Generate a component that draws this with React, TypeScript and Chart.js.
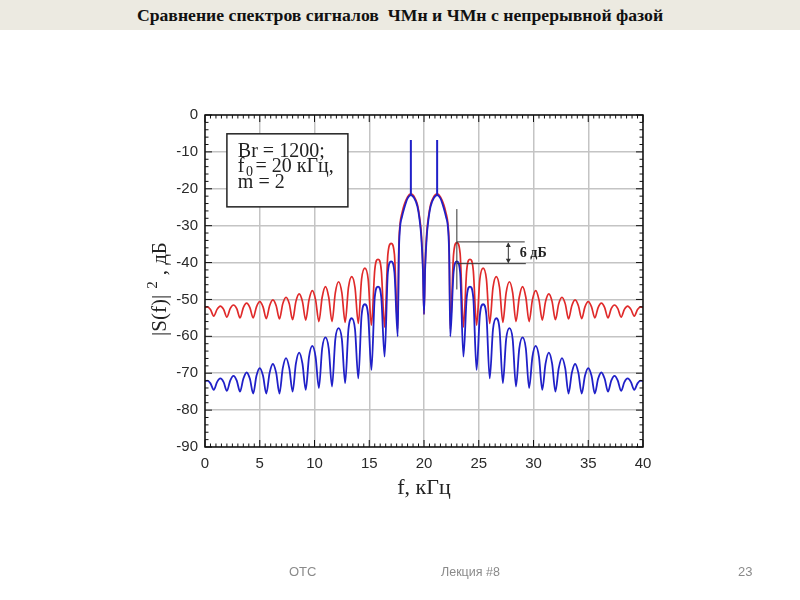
import React, { useEffect, useRef } from "react";
import { Chart, registerables } from "chart.js";

Chart.register(...registerables);

// ---------- data ----------
const freqs = [
  0, 0.2, 0.5, 0.8, 1.1, 1.4, 1.7, 2.0, 2.3, 2.6, 2.9, 3.2, 3.5, 3.8, 4.1, 4.4, 4.7, 5.0, 5.3, 5.6,
  5.9, 6.2, 6.5, 6.8, 7.1, 7.4, 7.7, 8.0, 8.3, 8.6, 8.9, 9.2, 9.5, 9.8, 10.1, 10.4, 10.7, 11.0, 11.3,
  11.6, 11.9, 12.2, 12.5, 12.8, 13.1, 13.4, 13.7, 14.0, 14.3, 14.6, 14.9, 15.2, 15.5, 15.8, 16.1,
  16.4, 16.7, 17.0, 17.3, 17.6,
  17.7, 17.8, 18.0, 18.2, 18.5, 18.8, 19.1, 19.4, 19.6, 19.75, 19.9, 20.0,
  20.1, 20.25, 20.4, 20.6, 20.9, 21.2, 21.5, 21.8, 22.0, 22.2, 22.3, 22.4,
  22.7, 23.0, 23.3, 23.6, 23.9, 24.2, 24.5, 24.8, 25.1, 25.4, 25.7, 26.0, 26.3, 26.6, 26.9, 27.2,
  27.5, 27.8, 28.1, 28.4, 28.7, 29.0, 29.3, 29.6, 29.9, 30.2, 30.5, 30.8, 31.1, 31.4, 31.7, 32.0,
  32.3, 32.6, 32.9, 33.2, 33.5, 33.8, 34.1, 34.4, 34.7, 35.0, 35.3, 35.6, 35.9, 36.2, 36.5, 36.8,
  37.1, 37.4, 37.7, 38.0, 38.3, 38.6, 38.9, 39.2, 39.5, 39.8, 40.0,
];

// ЧМн (red)
const fskDb = [
  -52.2, -52.0, -52.75,
  -54.5, -52.7, -51.8, -52.7,
  -54.8, -52.5, -51.5, -52.5,
  -55.0, -52.2, -51.0, -52.2,
  -55.0, -52.0, -50.6, -52.0,
  -55.2, -51.7, -50.1, -51.7,
  -55.3, -51.2, -49.4, -51.2,
  -55.5, -50.6, -48.5, -50.6,
  -55.6, -50.1, -47.6, -50.1,
  -56.0, -49.4, -46.5, -49.4,
  -56.0, -48.2, -45.2, -48.2,
  -56.2, -46.8, -43.8, -46.8,
  -56.5, -44.5, -41.5, -44.5,
  -57.0, -42.1, -39.1, -42.1,
  -57.5, -37.8, -34.8, -37.8,
  -58.0,
  -36, -30, -26.5, -24.3, -22.2, -21.4, -22.1, -24.3, -27.8, -32, -41, -54,
  -41, -32, -27.8, -24.3, -22.1, -21.4, -22.2, -24.3, -26.5, -30, -36, -58,
  -37.8, -34.6, -37.6, -57.5,
  -42.1, -39.1, -42.1, -57.0,
  -44.5, -41.5, -44.5, -56.5,
  -46.8, -43.8, -46.8, -56.2,
  -48.2, -45.2, -48.2, -56.0,
  -49.4, -46.5, -49.4, -56.0,
  -50.1, -47.6, -50.1, -55.6,
  -50.6, -48.5, -50.6, -55.5,
  -51.2, -49.4, -51.2, -55.3,
  -51.7, -50.1, -51.7, -55.2,
  -52.0, -50.6, -52.0, -55.0,
  -52.2, -51.0, -52.2, -55.0,
  -52.5, -51.5, -52.5, -54.8,
  -52.7, -51.8, -52.7, -54.5,
  -52.75, -52.0, -52.2,
];

// ЧМн с непрерывной фазой (blue)
const cpfskDb = [
  -72.2, -72.0, -72.75,
  -74.5, -72.4, -71.4, -72.4,
  -74.8, -72.0, -70.7, -72.0,
  -75.0, -71.5, -69.8, -71.5,
  -75.5, -70.7, -68.6, -70.7,
  -75.5, -69.9, -67.5, -69.9,
  -75.5, -68.7, -65.9, -68.7,
  -75.0, -67.4, -64.4, -67.4,
  -74.5, -65.6, -62.6, -65.6,
  -74.0, -63.3, -60.3, -63.3,
  -73.6, -60.8, -57.8, -60.8,
  -72.7, -58.1, -55.1, -58.1,
  -71.4, -54.3, -51.3, -54.3,
  -69.1, -49.5, -46.5, -49.5,
  -65.5, -42.7, -39.7, -42.7,
  -60.0,
  -38, -31, -27.5, -25.2, -22.6, -21.7, -22.5, -24.8, -28.5, -33, -42, -54,
  -42, -33, -28.5, -24.8, -22.5, -21.7, -22.6, -25.2, -27.5, -31, -38, -60,
  -42.7, -39.7, -42.7, -65.5,
  -49.5, -46.5, -49.5, -69.1,
  -54.3, -51.3, -54.3, -71.4,
  -58.1, -55.1, -58.1, -72.7,
  -60.8, -57.8, -60.8, -73.6,
  -63.3, -60.3, -63.3, -74.0,
  -65.6, -62.6, -65.6, -74.5,
  -67.4, -64.4, -67.4, -75.0,
  -68.7, -65.9, -68.7, -75.5,
  -69.9, -67.5, -69.9, -75.5,
  -70.7, -68.6, -70.7, -75.5,
  -71.5, -69.8, -71.5, -75.0,
  -72.0, -70.7, -72.0, -74.8,
  -72.4, -71.4, -72.4, -74.5,
  -72.75, -72.0, -72.2,
];

// discrete spectral lines of the blue spectrum
const spikeFreqs = [18.8, 21.2];
const spikeTopDb = -6.8;
const spikeBaseDb = -21.7;

// axis ranges / ticks
const xMin = 0;
const xMax = 40;
const xStep = 5;
const xMinorStep = 0.5;
const yMin = -90;
const yMax = 0;
const yStep = 10;
const yMinorStep = 2;

// annotation: 6 dB difference between first side lobes
const annFreq = 23.0;
const annTopDb = -34.4;
const annBottomDb = -40.3;

const infoLines = ["Br = 1200;", "f", "0", "= 20 кГц,", "m = 2"];

const RED = "#e02a2a";
const BLUE = "#2020c8";
const SERIF = '"Liberation Serif", "Times New Roman", serif';
const SANS = '"Liberation Sans", Arial, sans-serif';

const overlayPlugin = {
  id: "overlay",
  afterDatasetsDraw(chart: any) {
    const { ctx, chartArea: a, scales } = chart;
    const x = scales.x;
    const y = scales.y;
    ctx.save();

    // info box
    const bx1 = x.getPixelForValue(2.0);
    const bx2 = x.getPixelForValue(13.05);
    const by1 = y.getPixelForValue(-5.1);
    const by2 = y.getPixelForValue(-24.9);
    ctx.fillStyle = "#ffffff";
    ctx.fillRect(bx1, by1, bx2 - bx1, by2 - by1);
    ctx.strokeStyle = "#222";
    ctx.lineWidth = 1.5;
    ctx.strokeRect(bx1, by1, bx2 - bx1, by2 - by1);

    ctx.fillStyle = "#222";
    ctx.textAlign = "left";
    ctx.textBaseline = "alphabetic";
    ctx.font = `20px ${SERIF}`;
    const tx = x.getPixelForValue(3.0);
    ctx.fillText(infoLines[0], tx, y.getPixelForValue(-11.3));
    const b2 = y.getPixelForValue(-15.4);
    ctx.fillText(infoLines[1], tx, b2);
    let cx = tx + ctx.measureText(infoLines[1]).width + 1.5;
    ctx.font = `14px ${SERIF}`;
    ctx.fillText(infoLines[2], cx, b2 + 4);
    cx += ctx.measureText(infoLines[2]).width + 2.5;
    ctx.font = `20px ${SERIF}`;
    ctx.fillText(infoLines[3], cx, b2);
    ctx.fillText(infoLines[4], tx, y.getPixelForValue(-19.9));

    // 6 dB annotation
    ctx.strokeStyle = "#333";
    ctx.lineWidth = 1;
    const ax = x.getPixelForValue(annFreq);
    const ayT = y.getPixelForValue(annTopDb);
    const ayB = y.getPixelForValue(annBottomDb);
    ctx.beginPath();
    ctx.moveTo(ax, y.getPixelForValue(-25.5));
    ctx.lineTo(ax, y.getPixelForValue(-47.3));
    ctx.moveTo(ax, ayT);
    ctx.lineTo(x.getPixelForValue(29.2), ayT);
    ctx.moveTo(ax, ayB);
    ctx.lineTo(x.getPixelForValue(29.3), ayB);
    const arX = x.getPixelForValue(27.7);
    ctx.moveTo(arX, ayT + 1);
    ctx.lineTo(arX, ayB - 1);
    ctx.stroke();
    ctx.fillStyle = "#333";
    ctx.beginPath();
    ctx.moveTo(arX, ayT + 0.5);
    ctx.lineTo(arX - 2.5, ayT + 5);
    ctx.lineTo(arX + 2.5, ayT + 5);
    ctx.closePath();
    ctx.moveTo(arX, ayB - 0.5);
    ctx.lineTo(arX - 2.5, ayB - 5);
    ctx.lineTo(arX + 2.5, ayB - 5);
    ctx.closePath();
    ctx.fill();
    ctx.fillStyle = "#222";
    ctx.font = `bold 14px ${SERIF}`;
    ctx.textBaseline = "middle";
    ctx.fillText("6 дБ", x.getPixelForValue(28.75), (ayT + ayB) / 2 + 1);

    // frame
    ctx.strokeStyle = "#111";
    ctx.lineWidth = 1.5;
    ctx.strokeRect(a.left, a.top, a.right - a.left, a.bottom - a.top);

    // inward ticks on all four sides
    ctx.lineWidth = 1;
    ctx.beginPath();
    for (let i = 0; i <= Math.round((xMax - xMin) / xMinorStep); i++) {
      const v = xMin + i * xMinorStep;
      const px = x.getPixelForValue(v);
      const major = Math.abs(v / xStep - Math.round(v / xStep)) < 1e-6;
      const len = major ? 7 : 3.5;
      ctx.moveTo(px, a.bottom);
      ctx.lineTo(px, a.bottom - len);
      ctx.moveTo(px, a.top);
      ctx.lineTo(px, a.top + len);
    }
    for (let i = 0; i <= Math.round((yMax - yMin) / yMinorStep); i++) {
      const v = yMin + i * yMinorStep;
      const py = y.getPixelForValue(v);
      const major = Math.abs(v / yStep - Math.round(v / yStep)) < 1e-6;
      const len = major ? 7 : 3.5;
      ctx.moveTo(a.left, py);
      ctx.lineTo(a.left + len, py);
      ctx.moveTo(a.right, py);
      ctx.lineTo(a.right - len, py);
    }
    ctx.stroke();

    // axis titles
    ctx.fillStyle = "#222";
    ctx.font = `22px ${SERIF}`;
    ctx.textAlign = "center";
    ctx.textBaseline = "alphabetic";
    ctx.fillText("f, кГц", (a.left + a.right) / 2, a.bottom + 47);

    ctx.save();
    ctx.translate(166, 289);
    ctx.rotate(-Math.PI / 2);
    ctx.textAlign = "left";
    ctx.font = `21px ${SERIF}`;
    const p1 = "|S(f)|";
    const p3 = ", дБ";
    const w1 = ctx.measureText(p1).width;
    const w3 = ctx.measureText(p3).width;
    ctx.font = `15px ${SERIF}`;
    const w2 = ctx.measureText("2").width;
    const gap = 6;
    const total = w1 + gap + w2 + gap + w3;
    let u = -total / 2;
    ctx.font = `21px ${SERIF}`;
    ctx.fillText(p1, u, 0);
    u += w1 + gap;
    ctx.font = `15px ${SERIF}`;
    ctx.fillText("2", u, -9);
    u += w2 + gap;
    ctx.font = `21px ${SERIF}`;
    ctx.fillText(p3, u, 0);
    ctx.restore();

    ctx.restore();
  },
};

export default function App() {
  const ref = useRef<HTMLCanvasElement | null>(null);

  useEffect(() => {
    if (!ref.current) return;
    const redData = freqs.map((f, i) => ({ x: f, y: fskDb[i] }));
    const blueData = freqs.map((f, i) => ({ x: f, y: cpfskDb[i] }));
    const spikeData: any[] = [];
    spikeFreqs.forEach((f, i) => {
      if (i > 0) spikeData.push({ x: f, y: null });
      spikeData.push({ x: f, y: spikeBaseDb });
      spikeData.push({ x: f, y: spikeTopDb });
    });

    const chart = new Chart(ref.current, {
      type: "line",
      data: {
        datasets: [
          {
            label: "spikes",
            data: spikeData,
            borderColor: BLUE,
            borderWidth: 2,
            pointRadius: 0,
            tension: 0,
            spanGaps: false,
          },
          {
            label: "ЧМн с непрерывной фазой",
            data: blueData,
            borderColor: BLUE,
            borderWidth: 1.8,
            pointRadius: 0,
            cubicInterpolationMode: "monotone",
          },
          {
            label: "ЧМн",
            data: redData,
            borderColor: RED,
            borderWidth: 1.7,
            pointRadius: 0,
            cubicInterpolationMode: "monotone",
          },
        ],
      } as any,
      options: {
        animation: false,
        responsive: false,
        maintainAspectRatio: false,
        devicePixelRatio: window.devicePixelRatio || 1,
        layout: { padding: { left: 145, right: 157, top: 115, bottom: 93 } },
        plugins: {
          legend: { display: false },
          tooltip: { enabled: false },
        },
        scales: {
          x: {
            type: "linear",
            min: xMin,
            max: xMax,
            afterFit: (s: any) => {
              s.height = 60;
            },
            ticks: {
              stepSize: xStep,
              padding: 8,
              maxRotation: 0,
              autoSkip: false,
              color: "#2a2a2a",
              font: { family: SANS, size: 15 },
            },
            grid: { color: "#c4c4c4", lineWidth: 1.5, drawTicks: false },
            border: { display: false },
          },
          y: {
            type: "linear",
            min: yMin,
            max: yMax,
            afterFit: (s: any) => {
              s.width = 60;
            },
            ticks: {
              stepSize: yStep,
              padding: 7,
              color: "#2a2a2a",
              font: { family: SANS, size: 15 },
            },
            grid: { color: "#c4c4c4", lineWidth: 1.5, drawTicks: false },
            border: { display: false },
          },
        },
      } as any,
      plugins: [overlayPlugin],
    });
    return () => chart.destroy();
  }, []);

  return (
    <div style={{ position: "absolute", left: 0, top: 0, width: 800, height: 600, background: "#fff", overflow: "hidden" }}>
      <div
        style={{
          position: "absolute",
          left: 0,
          top: 0,
          width: 800,
          height: 30,
          background: "#ECEAE1",
          textAlign: "center",
          fontFamily: SERIF,
          fontWeight: "bold",
          fontSize: 17.7,
          lineHeight: "30px",
          color: "#111",
          whiteSpace: "pre",
        }}
      >
        {"Сравнение спектров сигналов  ЧМн и ЧМн с непрерывной фазой"}
      </div>
      <canvas ref={ref} width={800} height={600} style={{ position: "absolute", left: 0, top: 0, width: 800, height: 600 }} />
      <div style={{ position: "absolute", left: 289, top: 564, fontFamily: SANS, fontSize: 13, color: "#8a8a8a", lineHeight: "16px" }}>ОТС</div>
      <div style={{ position: "absolute", left: 441, top: 564, fontFamily: SANS, fontSize: 12.5, color: "#8a8a8a", lineHeight: "16px" }}>Лекция #8</div>
      <div style={{ position: "absolute", left: 738, top: 564, fontFamily: SANS, fontSize: 13, color: "#8a8a8a", lineHeight: "16px" }}>23</div>
    </div>
  );
}
